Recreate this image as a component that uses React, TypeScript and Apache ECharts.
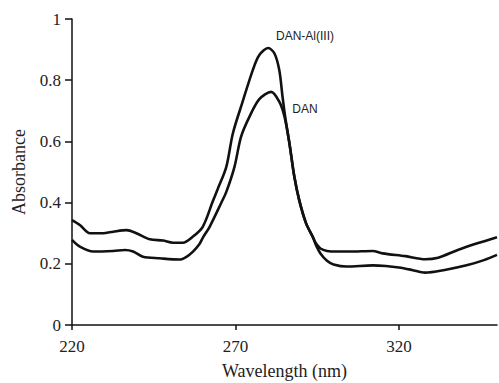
import React, { useEffect, useRef } from "react";
import * as echarts from "echarts";

const xTicks = [220, 270, 320];

const alWavelength = [220, 222.4, 225.5, 229.5, 232.6, 236.7, 239.7, 243.8, 247.8, 250.9, 253.9, 257, 260, 263.1, 264.6, 267.2, 269.2, 272.2, 275.3, 277.3, 280, 281.9, 283.4, 284.4, 285.2, 286.5, 288, 289.5, 291.6, 293.6, 294.6, 296, 298, 301, 305, 312, 315, 322, 328, 332, 338, 344, 350];
const alAbsorbance = [0.343, 0.327, 0.300, 0.300, 0.305, 0.310, 0.300, 0.280, 0.276, 0.269, 0.269, 0.289, 0.321, 0.405, 0.445, 0.517, 0.626, 0.730, 0.833, 0.882, 0.905, 0.888, 0.833, 0.746, 0.681, 0.594, 0.485, 0.408, 0.332, 0.289, 0.267, 0.250, 0.242, 0.240, 0.240, 0.242, 0.234, 0.225, 0.215, 0.220, 0.245, 0.267, 0.287];

const danWavelength = [220, 222.4, 226.5, 232.6, 236.2, 238.7, 241.7, 246.8, 252.9, 255, 257, 259, 260, 262.1, 265.6, 267.2, 269.7, 271.7, 274.3, 277.3, 280.9, 283.4, 285, 286.5, 288, 289.5, 291.6, 293.6, 294.6, 296, 298, 300, 304, 312, 316, 320, 324, 328, 334, 341, 346, 350];
const danAbsorbance = [0.278, 0.256, 0.240, 0.242, 0.245, 0.240, 0.223, 0.218, 0.214, 0.223, 0.240, 0.265, 0.285, 0.321, 0.398, 0.435, 0.517, 0.615, 0.681, 0.738, 0.762, 0.730, 0.681, 0.594, 0.485, 0.408, 0.332, 0.289, 0.262, 0.234, 0.210, 0.198, 0.191, 0.195, 0.193, 0.188, 0.180, 0.171, 0.180, 0.196, 0.212, 0.229];

const seriesNames = ["DAN-Al(III)", "DAN"];
const labelAnchors = [
  [282.4, 0.944],
  [287.4, 0.706],
];

const zip = (xs: number[], ys: number[]) => xs.map((x, i) => [x, ys[i]]);

export default function App() {
  const ref = useRef<HTMLDivElement>(null);
  useEffect(() => {
    document.body.style.margin = "0";
    const chart = echarts.init(ref.current!, null, { renderer: "svg" });
    const serif = "Liberation Serif";
    const sans = "Liberation Sans";
    const lineSeries = (name: string, data: number[][], anchor: number[]) => ({
      name,
      type: "line",
      data,
      smooth: 0.3,
      showSymbol: false,
      symbol: "none",
      lineStyle: { color: "#111", width: 2.6 },
      markPoint: {
        symbol: "circle",
        symbolSize: 0,
        data: [
          {
            coord: anchor,
            label: {
              show: true,
              formatter: name,
              position: "right",
              distance: 0,
              color: "#222",
              fontFamily: sans,
              fontSize: 12,
            },
          },
        ],
      },
    });
    chart.setOption({
      animation: false,
      textStyle: { fontFamily: serif },
      grid: { left: 72, right: 2, top: 19, bottom: 58, containLabel: false, outerBoundsMode: "none" },
      xAxis: {
        type: "value",
        min: 220,
        max: 350,
        name: "Wavelength (nm)",
        nameLocation: "middle",
        nameGap: 37,
        nameTextStyle: { fontFamily: serif, fontSize: 18, color: "#222" },
        axisLine: { lineStyle: { color: "#111", width: 1.5 } },
        axisTick: { customValues: xTicks, length: 5, lineStyle: { color: "#111", width: 1.5 } },
        axisLabel: { customValues: xTicks, margin: 13, fontFamily: serif, fontSize: 17, color: "#222" },
        splitLine: { show: false },
      },
      yAxis: {
        type: "value",
        min: 0,
        max: 1,
        interval: 0.2,
        name: "Absorbance",
        nameLocation: "middle",
        nameGap: 44,
        nameTextStyle: { fontFamily: serif, fontSize: 18, color: "#222" },
        axisLine: { show: true, lineStyle: { color: "#111", width: 1.5 } },
        axisTick: { show: true, length: 7, lineStyle: { color: "#111", width: 1.5 } },
        axisLabel: { margin: 11, fontFamily: serif, fontSize: 17, color: "#222" },
        splitLine: { show: false },
      },
      series: [
        lineSeries(seriesNames[0], zip(alWavelength, alAbsorbance), labelAnchors[0]),
        lineSeries(seriesNames[1], zip(danWavelength, danAbsorbance), labelAnchors[1]),
      ],
    });
    return () => chart.dispose();
  }, []);
  return <div ref={ref} style={{ width: 499, height: 383 }} />;
}
